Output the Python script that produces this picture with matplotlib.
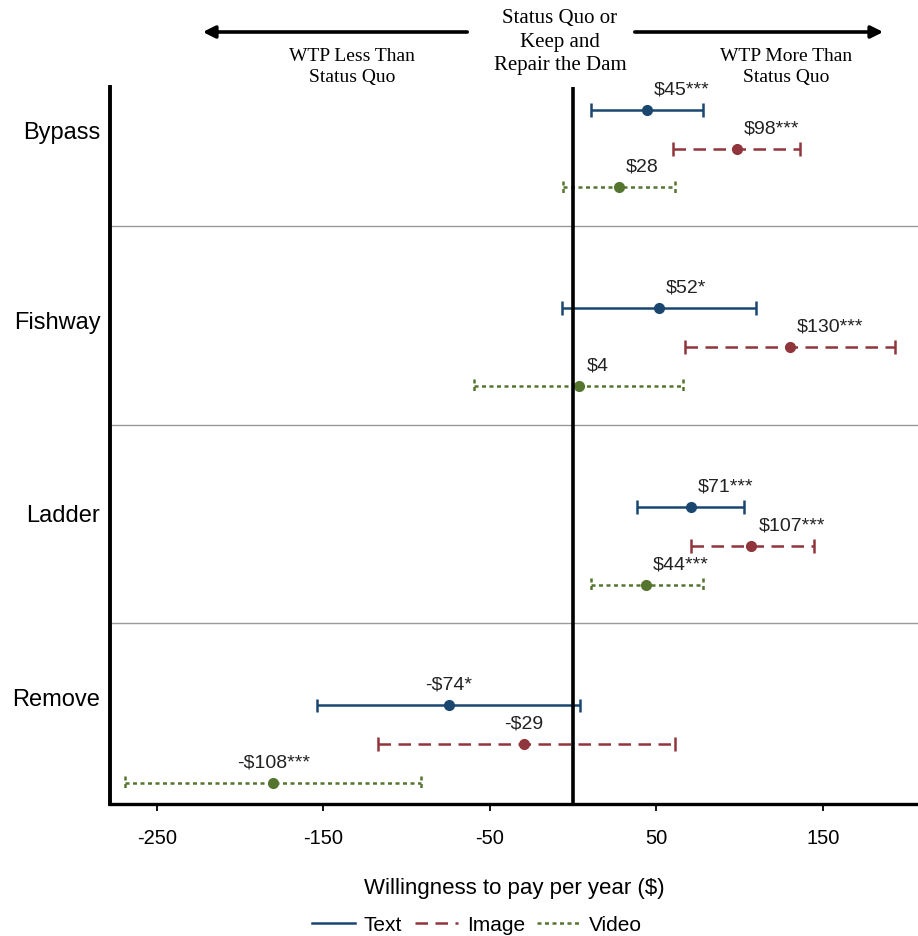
import numpy as np
import matplotlib
matplotlib.use('Agg')
import matplotlib.pyplot as plt
from matplotlib.lines import Line2D

plt.rcParams['font.family'] = ['Liberation Sans', 'DejaVu Sans']
plt.rcParams['axes.unicode_minus'] = False

# Data (willingness to pay per year, $)
options = ['Bypass', 'Fishway', 'Ladder', 'Remove']
formats = ['Text', 'Image', 'Video']

# point estimates for each option, per format
est = {
    'Text':  [44.3, 51.7, 70.9, -74.5],
    'Image': [98.3, 130.0, 107.0, -29.4],
    'Video': [27.6, 3.8, 43.8, -180.0],
}
lower = {
    'Text':  [10.8, -6.8, 38.6, -154.0],
    'Image': [59.9, 67.0, 70.7, -117.0],
    'Video': [-6.0, -59.3, 10.8, -268.7],
}
upper = {
    'Text':  [77.9, 110.0, 102.7, 4.0],
    'Image': [136.0, 193.0, 144.3, 61.0],
    'Video': [60.9, 66.0, 77.9, -91.5],
}
labels = {
    'Text':  ['$45***', '$52*', '$71***', '-$74*'],
    'Image': ['$98***', '$130***', '$107***', '-$29'],
    'Video': ['$28', '$4', '$44***', '-$108***'],
}

colors = {'Text': '#1a476f', 'Image': '#90353b', 'Video': '#55752f'}
styles = {'Text': '-', 'Image': (0, (5, 3)), 'Video': (0, (1.6, 1.4))}
row_offset = {'Text': -0.196, 'Image': 0.0, 'Video': 0.196}
label_shift = [-0.094, -0.14, -0.17, -0.24]

fig = plt.figure(figsize=(9.18, 9.37), dpi=100)
ax = fig.add_axes([110 / 918, 1 - 805 / 937, 808 / 918, 717 / 937])

group_pos = np.arange(len(options))

for f in formats:
    y = group_pos + row_offset[f]
    x = np.array(est[f])
    lo = np.array(lower[f])
    hi = np.array(upper[f])
    c = colors[f]
    ax.hlines(y, lo, hi, colors=c, linestyles=[styles[f]], lw=1.8, zorder=3)
    cap_h = 0.035
    cap_ls = [styles[f]] if f == 'Video' else '-'
    ax.vlines(lo, y - cap_h, y + cap_h, colors=c, linestyles=cap_ls, lw=1.8, zorder=3)
    ax.vlines(hi, y - cap_h, y + cap_h, colors=c, linestyles=cap_ls, lw=1.8, zorder=3)
    ax.plot(x, y, 'o', color=c, ms=7, zorder=4)
    for xi, yi, lab in zip(x, y, labels[f]):
        if xi < 0:
            ax.annotate(lab, (xi, yi), xytext=(0, 9), textcoords='offset points',
                        ha='center', va='bottom', fontsize=14, color='#222222')
        else:
            ax.annotate(lab, (xi, yi), xytext=(5, 9), textcoords='offset points',
                        ha='left', va='bottom', fontsize=14, color='#222222')

# group separators
for i in range(len(options) - 1):
    ax.axhline(i + 0.39, color='#999999', lw=1.0, zorder=1)

# status quo line
ax.axvline(0, color='black', lw=2.6, zorder=5)

ax.set_xlim(-278, 207)
ax.set_ylim(3.30, -0.31)

ax.set_xticks([-250, -150, -50, 50, 150])
ax.tick_params(axis='x', direction='out', length=5, width=1.3, labelsize=14.5, pad=12)
ax.set_yticks(group_pos + np.array(label_shift))
ax.set_yticklabels(options, fontsize=17)
ax.tick_params(axis='y', length=0, pad=7)

for side in ['top', 'right']:
    ax.spines[side].set_visible(False)
ax.spines['left'].set_linewidth(2.8)
ax.spines['bottom'].set_linewidth(2.4)

ax.set_xlabel('Willingness to pay per year ($)', fontsize=16, labelpad=22)

# legend
handles = [Line2D([], [], color=colors[f], linestyle=styles[f], lw=1.8) for f in formats]
fig.legend(handles, formats, loc='center', bbox_to_anchor=(477 / 918, 1 - 926 / 937),
           ncol=3, frameon=False, fontsize=15, handlelength=2.1, handletextpad=0.4,
           columnspacing=0.6)

# top annotations
serif = ['Liberation Serif', 'DejaVu Serif']
fig.text(560 / 918, 1 - 42 / 937, 'Status Quo or\nKeep and\nRepair the Dam', ha='center', va='center',
         fontsize=15, family=serif, linespacing=1.35)
fig.text(352 / 918, 1 - 67 / 937, 'WTP Less Than\nStatus Quo', ha='center', va='center',
         fontsize=14, family=serif, linespacing=1.25)
fig.text(786 / 918, 1 - 67 / 937, 'WTP More Than\nStatus Quo', ha='center', va='center',
         fontsize=14, family=serif, linespacing=1.25)

arrow_y = 1 - 33 / 937
fig.add_artist(matplotlib.patches.FancyArrowPatch((470 / 918, arrow_y), (200 / 918, arrow_y),
               transform=fig.transFigure, arrowstyle='-|>', mutation_scale=18, lw=2.6, color='black'))
fig.add_artist(matplotlib.patches.FancyArrowPatch((632 / 918, arrow_y), (886 / 918, arrow_y),
               transform=fig.transFigure, arrowstyle='-|>', mutation_scale=18, lw=2.6, color='black'))

fig.savefig('out.png', dpi=100)
